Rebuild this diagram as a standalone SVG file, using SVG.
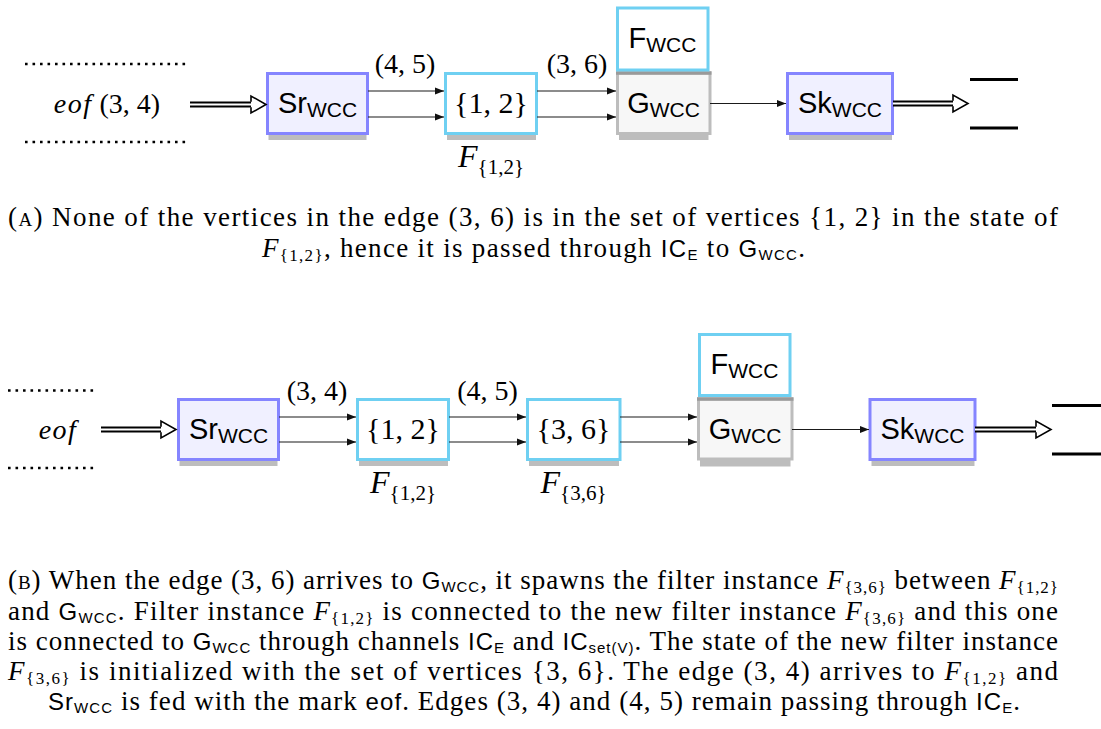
<svg xmlns="http://www.w3.org/2000/svg" width="1101" height="729" viewBox="0 0 1101 729">
<defs>
<marker id="ah" markerUnits="userSpaceOnUse" markerWidth="10" markerHeight="8" refX="9" refY="4" orient="auto"><path d="M0,0.6 L9,4 L0,7.4 Z" fill="#111"/></marker>
<style>
.shadow{fill:#bdbdbd}
.src{fill:#f0f0ff;stroke:#8585ff;stroke-width:3}
.flt{fill:#fff;stroke:#6fd0f2;stroke-width:3}
.gbox{fill:#f7f7f7;stroke:#bdbdbd;stroke-width:3}
.gtop{stroke:#9a9a9a;stroke-width:3.5}
.edge{stroke:#1a1a1a;stroke-width:1.2;fill:none;marker-end:url(#ah)}
.dbl-o{stroke:#000;stroke-width:6;fill:none}
.dbl-i{stroke:#fff;stroke-width:2.2;fill:none}
.head{fill:#fff;stroke:#000;stroke-width:1.6;stroke-linejoin:miter}
.dots{stroke:#000;stroke-width:2.6;stroke-dasharray:2.6 4.9}
.bar{stroke:#000;stroke-width:3}
.ss{font-family:"Liberation Sans",Arial,sans-serif;font-size:29px;fill:#000}
.sub{font-size:21px}
.rm{font-family:"Liberation Serif","Times New Roman",serif;font-size:28px;fill:#000}
.br{font-size:30px}
.it{font-style:italic}
.msub{font-size:21px;font-style:normal}
.cap{font-family:"Liberation Serif","Times New Roman",serif;font-size:27px;fill:#000}
.cs{font-family:"Liberation Sans",Arial,sans-serif;font-size:24px}
.csub{font-size:15px}
.fs{font-size:17px}
.sc{font-variant:small-caps}
</style>
</defs>

<!-- ===== Diagram A ===== -->
<g id="a_input">
<line class="dots" x1="25" y1="64" x2="190" y2="64"/>
<line class="dots" x1="25" y1="142" x2="190" y2="142"/>
<text class="rm" x="107" y="113" text-anchor="middle" font-size="30"><tspan class="it" letter-spacing="1.5">eof</tspan> (3, 4)</text>
</g>
<g id="a_src">
<rect class="shadow" x="268.5" y="80" width="98" height="60"/>
<rect class="src" x="267.5" y="73.5" width="100" height="60"/>
<text class="ss" x="317.5" y="113" text-anchor="middle">Sr<tspan class="sub" dy="4">WCC</tspan></text>
</g>
<g id="a_f12">
<rect class="shadow" x="447" y="80" width="89" height="60"/>
<rect class="flt" x="445.5" y="73.5" width="91" height="60"/>
<text class="rm br" x="491" y="113" text-anchor="middle">{1, 2}</text>
<text class="rm" x="491" y="167" text-anchor="middle"><tspan class="it" font-size="32">F</tspan><tspan class="msub" dy="7">{1,2}</tspan></text>
</g>
<g id="a_g">
<rect class="shadow" x="619" y="79.5" width="89.5" height="60.5"/>
<rect class="gbox" x="617.5" y="73" width="92.5" height="60.5"/>
<line class="gtop" x1="616" y1="73" x2="711.5" y2="73"/>
<text class="ss" x="663.5" y="113" text-anchor="middle">G<tspan class="sub" dy="4">WCC</tspan></text>
</g>
<g id="a_fwcc">
<rect class="flt" x="617.5" y="8" width="90.5" height="62"/>
<text class="ss" x="662.5" y="48" text-anchor="middle">F<tspan class="sub" dy="4">WCC</tspan></text>
</g>
<g id="a_sk">
<rect class="shadow" x="789" y="80" width="103" height="60"/>
<rect class="src" x="787.5" y="73.5" width="105" height="60"/>
<text class="ss" x="840" y="113" text-anchor="middle">Sk<tspan class="sub" dy="4">WCC</tspan></text>
</g>
<g id="a_output">
<line class="bar" x1="970" y1="79.5" x2="1018" y2="79.5"/>
<line class="bar" x1="970" y1="128" x2="1018" y2="128"/>
</g>
<g id="a_connectors">
<path class="dbl-o" d="M190,104.5 H252"/><path class="dbl-i" d="M190,104.5 H253"/>
<path class="head" d="M251,101.7 V96 L266,104.5 L251,113 V107.3"/>
<line class="edge" x1="368" y1="91" x2="444" y2="91"/>
<line class="edge" x1="368" y1="117" x2="444" y2="117"/>
<line class="edge" x1="537" y1="91" x2="616" y2="91"/>
<line class="edge" x1="537" y1="117" x2="616" y2="117"/>
<line class="edge" x1="710" y1="103.5" x2="786" y2="103.5"/>
<path class="dbl-o" d="M893,103.5 H954"/><path class="dbl-i" d="M893,103.5 H955"/>
<path class="head" d="M953,100.7 V95 L968,103.5 L953,112 V106.3"/>
<text class="rm" x="405" y="73" text-anchor="middle">(4, 5)</text>
<text class="rm" x="577" y="73" text-anchor="middle">(3, 6)</text>
</g>

<!-- Caption A -->
<g id="caption_a" class="cap">
<text x="8" y="226" textLength="1050" lengthAdjust="spacing"><tspan class="sc">(a)</tspan> None of the vertices in the edge (3, 6) is in the set of vertices {1, 2} in the state of</text>
<text x="262" y="257" textLength="543" lengthAdjust="spacing"><tspan class="it">F</tspan><tspan class="fs" dy="4">{1,2}</tspan><tspan dy="-4">, hence it is passed through </tspan><tspan class="cs">IC<tspan class="csub" dy="3">E</tspan></tspan><tspan dy="-3"> to </tspan><tspan class="cs">G<tspan class="csub" dy="3">WCC</tspan></tspan><tspan dy="-3">.</tspan></text>
</g>

<!-- ===== Diagram B ===== -->
<g id="b_input">
<line class="dots" x1="8" y1="390.5" x2="97" y2="390.5"/>
<line class="dots" x1="8" y1="468" x2="97" y2="468"/>
<text class="rm" x="58" y="439" text-anchor="middle" font-size="30"><tspan class="it" letter-spacing="1.5">eof</tspan></text>
</g>
<g id="b_src">
<rect class="shadow" x="179.5" y="406" width="98" height="60"/>
<rect class="src" x="178.5" y="399.5" width="100" height="60"/>
<text class="ss" x="228.5" y="439" text-anchor="middle">Sr<tspan class="sub" dy="4">WCC</tspan></text>
</g>
<g id="b_f12">
<rect class="shadow" x="359" y="406" width="89" height="60"/>
<rect class="flt" x="357.5" y="399.5" width="91" height="60"/>
<text class="rm br" x="403" y="439" text-anchor="middle">{1, 2}</text>
<text class="rm" x="403" y="493" text-anchor="middle"><tspan class="it" font-size="32">F</tspan><tspan class="msub" dy="7">{1,2}</tspan></text>
</g>
<g id="b_f36">
<rect class="shadow" x="529" y="406" width="90" height="60"/>
<rect class="flt" x="527.5" y="399.5" width="92.5" height="60"/>
<text class="rm br" x="573.5" y="439" text-anchor="middle">{3, 6}</text>
<text class="rm" x="573.5" y="493" text-anchor="middle"><tspan class="it" font-size="32">F</tspan><tspan class="msub" dy="7">{3,6}</tspan></text>
</g>
<g id="b_g">
<rect class="shadow" x="700" y="406" width="90.5" height="60.5"/>
<rect class="gbox" x="698.5" y="399" width="93.5" height="60"/>
<line class="gtop" x1="697" y1="399" x2="793.5" y2="399"/>
<text class="ss" x="745" y="439" text-anchor="middle">G<tspan class="sub" dy="4">WCC</tspan></text>
</g>
<g id="b_fwcc">
<rect class="flt" x="699.5" y="334.5" width="90.5" height="61"/>
<text class="ss" x="744.5" y="374" text-anchor="middle">F<tspan class="sub" dy="4">WCC</tspan></text>
</g>
<g id="b_sk">
<rect class="shadow" x="871.5" y="406" width="103" height="60"/>
<rect class="src" x="870" y="399.5" width="105" height="60"/>
<text class="ss" x="922.5" y="439" text-anchor="middle">Sk<tspan class="sub" dy="4">WCC</tspan></text>
</g>
<g id="b_output">
<line class="bar" x1="1052" y1="405.5" x2="1101" y2="405.5"/>
<line class="bar" x1="1052" y1="454" x2="1101" y2="454"/>
</g>
<g id="b_connectors">
<path class="dbl-o" d="M101,429.5 H162"/><path class="dbl-i" d="M101,429.5 H163"/>
<path class="head" d="M161,426.7 V421 L176,429.5 L161,438 V432.3"/>
<line class="edge" x1="279" y1="417" x2="356" y2="417"/>
<line class="edge" x1="279" y1="442" x2="356" y2="442"/>
<line class="edge" x1="449" y1="417" x2="526" y2="417"/>
<line class="edge" x1="449" y1="442" x2="526" y2="442"/>
<line class="edge" x1="620" y1="417" x2="697" y2="417"/>
<line class="edge" x1="620" y1="442" x2="697" y2="442"/>
<line class="edge" x1="792" y1="429.5" x2="869" y2="429.5"/>
<path class="dbl-o" d="M975,429.5 H1037"/><path class="dbl-i" d="M975,429.5 H1038"/>
<path class="head" d="M1036,426.7 V421 L1051,429.5 L1036,438 V432.3"/>
<text class="rm" x="317" y="400" text-anchor="middle">(3, 4)</text>
<text class="rm" x="487.5" y="400" text-anchor="middle">(4, 5)</text>
</g>

<!-- Caption B -->
<g id="caption_b" class="cap">
<text x="8" y="589" textLength="1050" lengthAdjust="spacing"><tspan class="sc">(b)</tspan> When the edge (3, 6) arrives to <tspan class="cs">G<tspan class="csub" dy="3">WCC</tspan></tspan><tspan dy="-3">, it spawns the filter instance </tspan><tspan class="it">F</tspan><tspan class="fs" dy="4">{3,6}</tspan><tspan dy="-4"> between </tspan><tspan class="it">F</tspan><tspan class="fs" dy="4">{1,2}</tspan></text>
<text x="8" y="620" textLength="1050" lengthAdjust="spacing">and <tspan class="cs">G<tspan class="csub" dy="3">WCC</tspan></tspan><tspan dy="-3">. Filter instance </tspan><tspan class="it">F</tspan><tspan class="fs" dy="4">{1,2}</tspan><tspan dy="-4"> is connected to the new filter instance </tspan><tspan class="it">F</tspan><tspan class="fs" dy="4">{3,6}</tspan><tspan dy="-4"> and this one</tspan></text>
<text x="8" y="650" textLength="1050" lengthAdjust="spacing">is connected to <tspan class="cs">G<tspan class="csub" dy="3">WCC</tspan></tspan><tspan dy="-3"> through channels </tspan><tspan class="cs">IC<tspan class="csub" dy="3">E</tspan></tspan><tspan dy="-3"> and </tspan><tspan class="cs">IC<tspan class="csub" dy="3">set(V)</tspan></tspan><tspan dy="-3">. The state of the new filter instance</tspan></text>
<text x="8" y="680" textLength="1050" lengthAdjust="spacing"><tspan class="it">F</tspan><tspan class="fs" dy="4">{3,6}</tspan><tspan dy="-4"> is initialized with the set of vertices {3, 6}.  The edge (3, 4) arrives to </tspan><tspan class="it">F</tspan><tspan class="fs" dy="4">{1,2}</tspan><tspan dy="-4"> and</tspan></text>
<text x="48" y="710" textLength="972" lengthAdjust="spacing"><tspan class="cs">Sr<tspan class="csub" dy="3">WCC</tspan></tspan><tspan dy="-3"> is fed with the mark </tspan><tspan class="cs">eof</tspan>. Edges (3, 4) and (4, 5) remain passing through <tspan class="cs">IC<tspan class="csub" dy="3">E</tspan></tspan><tspan dy="-3">.</tspan></text>
</g>
</svg>
